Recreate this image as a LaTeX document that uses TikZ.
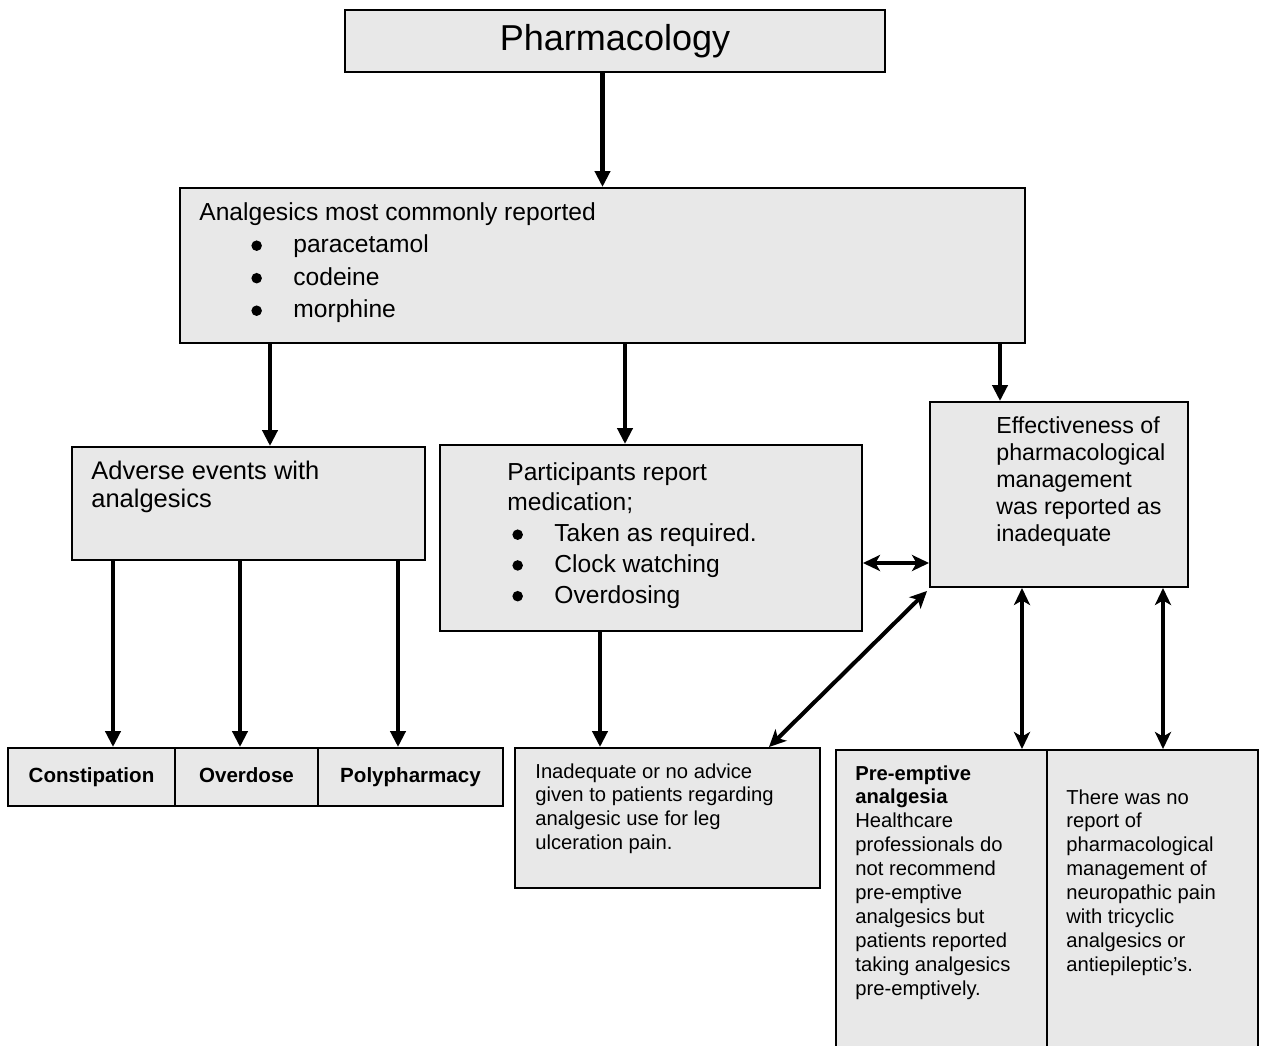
\documentclass[tikz,border=0pt]{standalone}
\usepackage{fontspec}
\setmainfont{Liberation Sans}
\usetikzlibrary{arrows.meta}

\definecolor{boxgray}{gray}{0.91}
\newcommand{\fs}[2]{\fontsize{#1}{#2}\selectfont}
\newcommand{\bdot}{\tikz[baseline=-4pt]\fill (0,0) circle (3pt);}
\newcommand{\bitem}[2]{\hspace*{#1}\makebox[0.84cm][l]{\bdot}#2}

\tikzset{
  box/.style={draw, line width=1.1pt, fill=boxgray, inner sep=0pt},
  lowbox/.style={box, minimum height=1.16cm, text height=1.6ex, text depth=0.45ex, font=\bfseries\fs{11.7}{14}},
  txt/.style={anchor=north west, align=left, inner sep=0pt},
  arr/.style={line width=2.3pt, -{Triangle[length=3.2mm,width=3mm]}},
  darr/.style={line width=2.3pt, {Stealth[length=3.4mm,width=3.2mm,inset=0.9mm]}-{Stealth[length=3.4mm,width=3.2mm,inset=0.9mm]}},
}

\begin{document}
\begin{tikzpicture}
        \useasboundingbox (0,0) rectangle (25.26,-20.9);
        % boxes
        \node[box, minimum width=10.8cm, minimum height=1.24cm, font=\fs{20.5}{24}] (pharm) at (12.3,-0.82) {Pharmacology};
        \node[box, minimum width=16.9cm, minimum height=3.1cm] (analg) at (12.05,-5.31) {};
        \node[box, minimum width=7.06cm, minimum height=2.26cm] (adverse) at (4.97,-10.07) {};
        \node[box, minimum width=8.44cm, minimum height=3.72cm] (partic) at (13.02,-10.76) {};
        \node[box, minimum width=5.16cm, minimum height=3.7cm] (effect) at (21.18,-9.89) {};
        \node[lowbox, minimum width=3.34cm] (constip) at (1.83,-15.54) {Constipation};
        \node[lowbox, minimum width=2.86cm] (overdose) at (4.93,-15.54) {Overdose};
        \node[lowbox, minimum width=3.7cm] (polyph) at (8.21,-15.54) {Polypharmacy};
        \node[box, minimum width=6.1cm, minimum height=2.8cm] (inadeq) at (13.35,-16.36) {};
        \node[box, minimum width=4.22cm, minimum height=6cm] (preemp) at (18.83,-18.0) {};
        \node[box, minimum width=4.22cm, minimum height=6cm] (noreport) at (23.05,-18.0) {};
        % texts
        \node[txt, font=\fs{14}{18.5}] (analgtxt) at ([shift={(0.4cm,-0.3cm)}]analg.north west)
          {Analgesics most commonly reported\\ \bitem{1.04cm}{paracetamol}\\ \bitem{1.04cm}{codeine}\\ \bitem{1.04cm}{morphine}};
        \node[txt, font=\fs{14.5}{16}] (advtxt) at ([shift={(0.4cm,-0.3cm)}]adverse.north west)
          {Adverse events with\\ analgesics};
        \node[txt, font=\fs{14}{17.5}] (partxt) at ([shift={(1.36cm,-0.36cm)}]partic.north west)
          {Participants report\\ medication;\\ \bitem{0.1cm}{Taken as required.}\\ \bitem{0.1cm}{Clock watching}\\ \bitem{0.1cm}{Overdosing}};
        \node[txt, font=\fs{13.2}{15.4}] (efftxt) at ([shift={(1.34cm,-0.3cm)}]effect.north west)
          {Effectiveness of\\ pharmacological\\ management\\ was reported as\\ inadequate};
        \node[txt, font=\fs{11.5}{13.6}] (inadtxt) at ([shift={(0.42cm,-0.32cm)}]inadeq.north west)
          {Inadequate or no advice\\ given to patients regarding\\ analgesic use for leg\\ ulceration pain.};
        \node[txt, font=\fs{11.5}{13.6}] (preetxt) at ([shift={(0.4cm,-0.32cm)}]preemp.north west)
          {\textbf{Pre-emptive}\\ \textbf{analgesia}\\ Healthcare\\ professionals do\\ not recommend\\ pre-emptive\\ analgesics but\\ patients reported\\ taking analgesics\\ pre-emptively.};
        \node[txt, font=\fs{11.5}{13.6}] (noreptxt) at ([shift={(0.4cm,-0.8cm)}]noreport.north west)
          {There was no\\ report of\\ pharmacological\\ management of\\ neuropathic pain\\ with tricyclic\\ analgesics or\\ antiepileptic's.};
        % connectors
        \path[arr]
          (pharm.south -| analg.north) edge (analg.north)
          ([xshift=0.43cm]adverse.north |- analg.south) edge ([xshift=0.43cm]adverse.north)
          ([xshift=-0.52cm]partic.north |- analg.south) edge ([xshift=-0.52cm]partic.north)
          ([xshift=-1.18cm]effect.north |- analg.south) edge ([xshift=-1.18cm]effect.north)
          ([xshift=0.43cm]constip.north |- adverse.south) edge ([xshift=0.43cm]constip.north)
          ([xshift=-0.13cm]overdose.north |- adverse.south) edge ([xshift=-0.13cm]overdose.north)
          ([xshift=-0.25cm]polyph.north |- adverse.south) edge ([xshift=-0.25cm]polyph.north)
          ([xshift=-1.35cm]inadeq.north |- partic.south) edge ([xshift=-1.35cm]inadeq.north)
          ;
        \path[darr]
          ([yshift=-0.5cm]partic.east) edge ([yshift=-0.5cm]partic.east -| effect.west)
          ([shift={(-0.04cm,-0.06cm)}]effect.south west) edge ([xshift=-1.04cm]inadeq.north east)
          ([xshift=-0.74cm]effect.south) edge ([xshift=-0.74cm]effect.south |- preemp.north)
          ([xshift=2.08cm]effect.south) edge ([xshift=2.08cm]effect.south |- noreport.north)
          ;
      \end{tikzpicture}
\end{document}
